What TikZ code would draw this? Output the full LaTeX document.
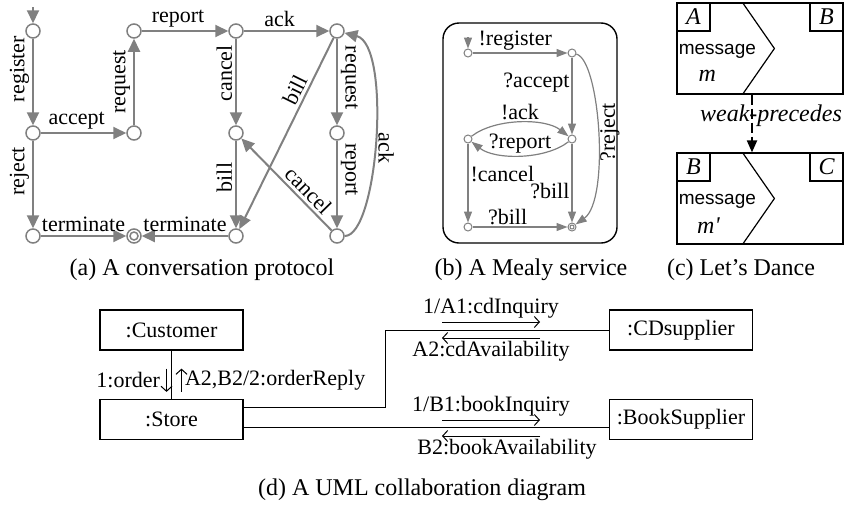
\documentclass[tikz,border=0pt]{standalone}
\usepackage{fontspec}
\setmainfont{Liberation Serif}
\newfontfamily\helvfont{Liberation Sans}
\usetikzlibrary{arrows.meta}
\usetikzlibrary{calc}
\definecolor{edgegray}{RGB}{128,128,128}

\tikzset{
  state/.style={circle,draw=edgegray,line width=0.75pt,fill=white,minimum size=7pt,inner sep=0pt},
  mstate/.style={circle,draw=edgegray,line width=0.5pt,fill=white,minimum size=4pt,inner sep=0pt},
  proto/.style={draw=edgegray,line width=1pt,-{Triangle[length=6.5pt,width=6pt]}},
  mealy/.style={draw=edgegray,line width=0.6pt,-{Triangle[length=5.5pt,width=4pt]}},
  lblL/.style={rotate=90,anchor=south,inner sep=1.5pt},
  lblR/.style={rotate=-90,anchor=south,inner sep=1.5pt},
  dbox/.style={draw,line width=0.6pt,minimum width=83pt,minimum height=45.5pt,inner sep=0pt},
  lbox/.style={draw,line width=0.6pt,minimum width=16.5pt,minimum height=14pt,inner sep=0pt,font=\fontsize{12}{14}\selectfont\itshape},
  msgtext/.style={anchor=west,inner sep=1pt,font=\helvfont\fontsize{9.5}{11}\selectfont},
  ubox/.style={draw,line width=0.6pt,minimum width=71.5pt,minimum height=20pt,inner sep=0pt},
  msg/.style={line width=0.5pt,-{Straight Barb[length=2.5pt,width=5.5pt]}},
  captext/.style={font=\fontsize{12}{14}\selectfont}
}

\begin{document}
\begin{tikzpicture}[x=0.5pt,y=-0.5pt,font=\fontsize{11}{13}\selectfont]
  \useasboundingbox (0,0) rectangle (851,504);

  % (a) conversation protocol
  \coordinate (p0) at (33,7);
  \node[state] (p1) at (33,31) {};
  \node[state] (p2) at (33,133) {};
  \node[state] (p3) at (33,236) {};
  \node[state] (p4) at (134,133) {};
  \node[state] (p5) at (134,31) {};
  \node[state] (p6) at (236,31) {};
  \node[state] (p7) at (337,31) {};
  \node[state] (p8) at (236,133) {};
  \node[state] (p9) at (337,133) {};
  \node[state] (p10) at (236,236) {};
  \node[state] (p11) at (337,236) {};
  \node[state] (pf) at (134,236) {};
  \draw[edgegray,line width=0.75pt] (pf) circle (2pt);

  \draw[proto] (p0) -- (p1);
  \draw[proto] (p1) -- node[pos=.35,lblL] {register} (p2);
  \draw[proto] (p2) -- node[pos=.42,above,inner sep=1.5pt] {accept} (p4);
  \draw[proto] (p2) -- node[pos=.35,lblL] {reject} (p3);
  \draw[proto] (p4) -- node[pos=.5,lblL] {request} (p5);
  \draw[proto] (p5) -- node[pos=.42,above,inner sep=1.5pt] {report} (p6);
  \draw[proto] (p6) -- node[pos=.42,above,inner sep=1.5pt] {ack} (p7);
  \draw[proto] (p6) -- node[pos=.4,lblL] {cancel} (p8);
  \draw[proto] (p7) -- node[pos=.45,lblR] {request} (p9);
  \draw[proto] (p9) -- node[pos=.33,lblR] {report} (p11);
  \draw[proto] (p8) -- node[pos=.42,lblL] {bill} (p10);
  \draw[proto] (p7) -- node[pos=.3,sloped,above,inner sep=1.5pt] {bill} (p10);
  \draw[proto] (p11) -- node[pos=.35,sloped,above,inner sep=1.5pt] {cancel} (p8);
  \draw[proto] (p11) .. controls (378,236) and (392,45) .. node[pos=.47,lblR] {ack} (p7);
  \draw[proto] (p3) -- node[pos=.5,above,inner sep=1.5pt] {terminate} (pf);
  \draw[proto] (p10) -- node[pos=.5,above,inner sep=1.5pt] {terminate} (pf);

  % (b) Mealy service
  \draw[line width=0.7pt,rounded corners=8pt] (443,23) rectangle (617,243);
  \coordinate (m0) at (468,37);
  \node[mstate] (m1) at (468,53) {};
  \node[mstate] (m2) at (572,53) {};
  \node[mstate] (m3) at (572,139) {};
  \node[mstate] (m4) at (468,139) {};
  \node[mstate] (m5) at (468,227) {};
  \node[mstate] (mf) at (572,227) {};
  \draw[edgegray,line width=0.5pt] (mf) circle (1pt);

  \draw[mealy] (m0) -- (m1);
  \draw[mealy] (m1) -- node[pos=.45,above,inner sep=1pt] {!register} (m2);
  \draw[mealy] (m2) -- node[pos=.33,left,inner sep=1pt] {?accept} (m3);
  \draw[mealy] (m4) .. controls (495,118) and (545,118) .. node[pos=.5,above,inner sep=1pt] {!ack} (m3);
  \draw[mealy] (m3) .. controls (545,160) and (495,160) .. node[pos=.5,above,inner sep=1pt] {?report} (m4);
  \draw[mealy] (m4) -- node[pos=.39,right,inner sep=1pt] {!cancel} (m5);
  \draw[mealy] (m3) -- node[pos=.6,left,inner sep=1pt] {?bill} (mf);
  \draw[mealy] (m5) -- node[pos=.37,above,inner sep=1pt] {?bill} (mf);
  \draw[mealy] (m2) .. controls (600,60) and (610,200) .. node[pos=.5,rotate=90,anchor=north,inner sep=1pt] {?reject} (mf);

  % (c) Let's Dance
  \node[dbox] (d1) at (760,48.5) {};
  \node[dbox] (d2) at (760,198.5) {};
  \node[lbox,anchor=north west] (d1a) at (d1.north west) {A};
  \node[lbox,anchor=north east] (d1b) at (d1.north east) {B};
  \node[lbox,anchor=north west] (d2a) at (d2.north west) {B};
  \node[lbox,anchor=north east] (d2b) at (d2.north east) {C};
  \draw[line width=0.6pt] ($(d1.north west)+(66,0)$) -- ($(d1.west)+(98,0)$) -- ($(d1.south west)+(66,0)$);
  \draw[line width=0.6pt] ($(d2.north west)+(66,0)$) -- ($(d2.west)+(98,0)$) -- ($(d2.south west)+(66,0)$);
  \node[msgtext] (d1m) at ($(d1.west)+(0,3)$) {message};
  \node[font=\fontsize{12}{14}\selectfont\itshape] (d1v) at ($(d1.west)+(31,27)$) {m};
  \node[msgtext] (d2m) at ($(d2.west)+(0,3)$) {message};
  \node[font=\fontsize{12}{14}\selectfont\itshape] (d2v) at ($(d2.west)+(32,27)$) {m\textquotesingle};
  \node[font=\fontsize{12}{14}\selectfont\itshape,inner sep=0pt] (wp) at (771,116) {weak-precedes};
  \draw[line width=1pt,dash pattern=on 5pt off 2pt,-{Triangle[length=6pt,width=5pt]}]
    ([xshift=-4pt]d1.south) -- ([xshift=-4pt]d2.north);

  % (d) UML collaboration diagram
  \node[ubox] (cust) at (171.5,330) {:Customer};
  \node[ubox] (store) at (171.5,419.5) {:Store};
  \node[ubox] (cd) at (681,330) {:CDsupplier};
  \node[ubox] (book) at (681,419.5) {:BookSupplier};
  \coordinate (cdturn) at (385,330);

  \draw[line width=0.5pt] (cust) -- (store);
  \draw[line width=0.5pt] ($(store.east)+(0,-12.5)$) -| (cdturn) -- (cd.west);
  \draw[line width=0.5pt] ($(store.east)+(0,7.5)$) -- ($(book.west)+(0,7.5)$);

  \draw[msg] ($(cust.south)+(-5,18)$) -- node[left,inner sep=3pt] {1:order} ($(store.north)+(-5,-7)$);
  \draw[msg] ($(store.north)+(10,-7)$) -- node[right,inner sep=1.5pt] {A2,B2/2:orderReply} ($(cust.south)+(10,18)$);
  \draw[msg] ($(cdturn)+(57,-8)$) -- node[above,inner sep=1.5pt] {1/A1:cdInquiry} ($(cdturn)+(155,-8)$);
  \draw[msg] ($(cdturn)+(155,8)$) -- node[below,inner sep=1.5pt] {A2:cdAvailability} ($(cdturn)+(57,8)$);
  \draw[msg] ($(cdturn)+(57,90)$) -- node[above,inner sep=1.5pt] {1/B1:bookInquiry} ($(cdturn)+(155,90)$);
  \draw[msg] ($(cdturn)+(155,106)$) -- node[below,inner sep=1.5pt,xshift=8pt] {B2:bookAvailability} ($(cdturn)+(57,106)$);

  % captions
  \node[captext] (capa) at (202,270) {(a) A conversation protocol};
  \node[captext] (capb) at (531,270) {(b) A Mealy service};
  \node[captext] (capc) at (741,270) {(c) Let’s Dance};
  \node[captext] (capd) at (422,490) {(d) A UML collaboration diagram};
\end{tikzpicture}
\end{document}
